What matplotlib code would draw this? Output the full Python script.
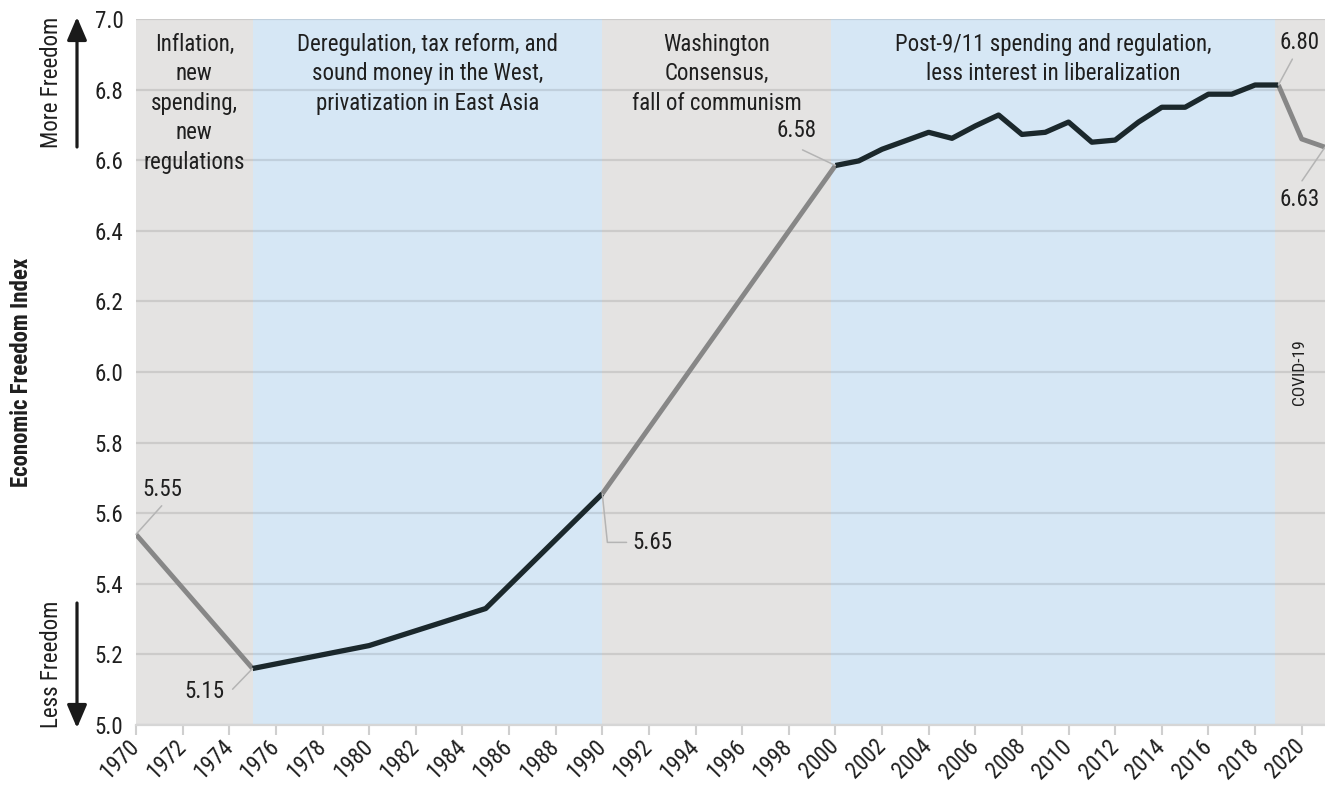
import numpy as np
import matplotlib
matplotlib.use("Agg")
import matplotlib.pyplot as plt
import matplotlib.transforms as mtransforms
from matplotlib import font_manager

# ---------------- data ----------------
years = [1970, 1975, 1980, 1985, 1990, 2000, 2001, 2002, 2003, 2004, 2005, 2006,
         2007, 2008, 2009, 2010, 2011, 2012, 2013, 2014, 2015, 2016, 2017, 2018,
         2019, 2020, 2021]
values = [5.54, 5.16, 5.225, 5.33, 5.655, 6.585, 6.598, 6.631, 6.655, 6.679, 6.662,
          6.697, 6.728, 6.673, 6.679, 6.708, 6.651, 6.657, 6.708, 6.75, 6.75,
          6.787, 6.787, 6.813, 6.813, 6.66, 6.637]

era_bounds = [1970, 1975, 1990, 1999.8, 2018.85, 2021]
era_labels = ["Inflation,\nnew\nspending,\nnew\nregulations",
              "Deregulation, tax reform, and\nsound money in the West,\nprivatization in East Asia",
              "Washington\nConsensus,\nfall of communism",
              "Post-9/11 spending and regulation,\nless interest in liberalization",
              ""]
covid_label = "COVID-19"
dark_ranges = [(1975, 1990), (2000, 2019)]

annot_years = [1970, 1975, 1990, 2000, 2019, 2021]
annot_texts = ["5.55", "5.15", "5.65", "6.58", "6.80", "6.63"]

y_ticks = [5.0, 5.2, 5.4, 5.6, 5.8, 6.0, 6.2, 6.4, 6.6, 6.8, 7.0]
x_ticks = list(range(1970, 2021, 2))

# ---------------- fonts ----------------
ttf = font_manager.fontManager.ttflist
names = {e.name for e in ttf}
fam, stretch = "Roboto", "normal"
if "Roboto Condensed" in names:
    fam = "Roboto Condensed"
elif any(e.name == "Roboto" and str(e.stretch) in ("condensed", "semi-condensed") for e in ttf):
    fam, stretch = "Roboto", "condensed"
elif "Liberation Sans Narrow" in names:
    fam = "Liberation Sans Narrow"
plt.rcParams["font.family"] = [fam, "DejaVu Sans"]
plt.rcParams["font.stretch"] = stretch

TXT = "#1f1f1f"
GREY_BG = "#e4e3e2"
BLUE_BG = "#d6e7f5"
DARK = "#1b282c"
GREYLINE = "#878787"
LEADER = "#b4b4b4"
FS = 16.5

fig = plt.figure(figsize=(13.25, 7.91), dpi=100)
W, H = 1325, 791
ax = fig.add_axes([136 / W, 66 / H, (W - 136) / W, (725 - 19) / H])

# era shading
for i in range(len(era_bounds) - 1):
    col = GREY_BG if i % 2 == 0 else BLUE_BG
    ax.axvspan(era_bounds[i], era_bounds[i + 1], color=col, lw=0, zorder=0.5)
    if era_labels[i]:
        ax.text((era_bounds[i] + era_bounds[i + 1]) / 2, 1 - 14 / 706, era_labels[i],
                transform=mtransforms.blended_transform_factory(ax.transData, ax.transAxes),
                ha="center", va="top", fontsize=FS, color=TXT, linespacing=1.355, zorder=5)
ax.text((era_bounds[-2] + era_bounds[-1]) / 2, 6.0, covid_label, rotation=90,
        ha="center", va="center", fontsize=12.5, color=TXT, zorder=5)

# line segments
yrs = np.array(years, dtype=float)
vals = np.array(values)
bounds = [yrs[0]] + [b for r in dark_ranges for b in r] + [yrs[-1]]
for k in range(len(bounds) - 1):
    lo, hi = bounds[k], bounds[k + 1]
    m = (yrs >= lo) & (yrs <= hi)
    if m.sum() < 2:
        continue
    dark = (k % 2 == 1)
    ax.plot(yrs[m], vals[m], color=DARK if dark else GREYLINE, lw=3.8 if dark else 3.5,
            solid_joinstyle="round", solid_capstyle="butt", zorder=3 if dark else 2.5)

# annotations (offsets in pixels: text position, leader end, alignment, connection)
text_off = [(26, 44.6), (-28.6, -22.7), (30.3, -49.2), (-38.6, 34.6), (21.3, 42.9), (-25.7, -52)]
lead_off = [(25.7, 28.6), (-20, -20.7), (24.3, -48.6), (-32.9, 15.6), (14, 25.9), (-23, -33.7)]
t_ha = ["center", "right", "left", "center", "center", "center"]
for yr, txt, to, lo, ha in zip(annot_years, annot_texts, text_off, lead_off, t_ha):
    v = vals[list(years).index(yr)]
    ax.annotate(txt, xy=(yr, v), xytext=to, textcoords="offset pixels",
                ha=ha, va="center", fontsize=FS, color=TXT, zorder=6, annotation_clip=False)
    cs = "angle,angleA=0,angleB=96,rad=0" if txt == "5.65" else "arc3"
    ax.annotate("", xy=(yr, v), xytext=lo, textcoords="offset pixels",
                arrowprops=dict(arrowstyle="-", color=LEADER, lw=1.1, shrinkA=0, shrinkB=0,
                                connectionstyle=cs), zorder=4, annotation_clip=False)

# axes styling
ax.set_xlim(1970, 2021)
ax.set_ylim(5.0, 7.0)
ax.set_yticks(y_ticks)
ax.set_yticklabels([f"{t:.1f}" for t in y_ticks])
ax.set_xticks(x_ticks)
ax.set_xticklabels([str(x) for x in x_ticks], rotation=45, ha="right",
                   rotation_mode="anchor", va="center")
shift = mtransforms.ScaledTranslation(6 / 100, -6 / 100, fig.dpi_scale_trans)
for lab in ax.get_xticklabels():
    lab.set_transform(lab.get_transform() + shift)
ax.tick_params(axis="y", length=0, pad=9, labelsize=FS, labelcolor=TXT)
ax.tick_params(axis="x", length=7, width=1.5, color="#cfcfcf", pad=6, labelsize=FS,
               labelcolor=TXT)
ax.set_axisbelow("line")
ax.yaxis.grid(True, color="black", alpha=0.1, lw=1.6)
for s in ["top", "right", "left"]:
    ax.spines[s].set_visible(False)
ax.spines["bottom"].set_color("#d6d6d6")
ax.spines["bottom"].set_linewidth(1.6)

# y label and freedom arrows
fig.text(22 / W, 1 - 372 / H, "Economic Freedom Index", rotation=90, ha="center",
         va="center", fontsize=FS, fontweight="bold", color=TXT)
fig.text(52 / W, 1 - 82 / H, "More Freedom", rotation=90, ha="center", va="center",
         fontsize=FS, color=TXT)
fig.text(52 / W, 1 - 664 / H, "Less Freedom", rotation=90, ha="center", va="center",
         fontsize=FS, color=TXT)
arrow = dict(arrowstyle="-|>,head_length=0.7,head_width=0.3", color="#1a1a1a", lw=2.3,
             mutation_scale=20, shrinkA=0, shrinkB=0)
fig.add_artist(matplotlib.patches.FancyArrowPatch((77, H - 147), (77, H - 17),
               transform=None, **arrow))
fig.add_artist(matplotlib.patches.FancyArrowPatch((77, H - 603), (77, H - 728),
               transform=None, **arrow))

fig.savefig("out.png", dpi=100)
